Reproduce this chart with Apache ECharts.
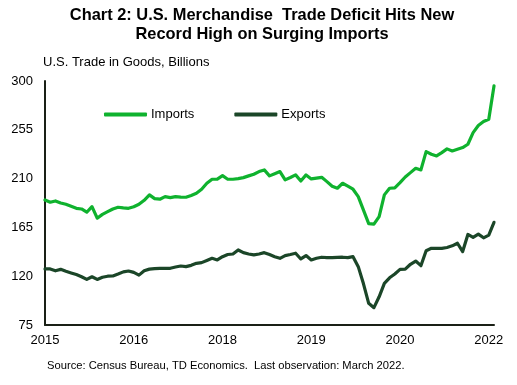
<!DOCTYPE html>
<html>
<head>
<meta charset="utf-8">
<script src="https://cdn.jsdelivr.net/npm/echarts@6/dist/echarts.min.js"></script>
<style>
html,body{margin:0;padding:0;background:#fff;}
#chart{width:517px;height:385px;}
</style>
</head>
<body>
<div id="chart"></div>
<script>
// Monthly categories: Jan 2015 .. Mar 2022
const months = [];
for (let y = 2015; y <= 2022; y++) {
  for (let m = 1; m <= 12; m++) {
    if (y === 2022 && m > 3) break;
    months.push(y + '-' + (m < 10 ? '0' + m : m));
  }
}
// Axis tick labels as shown in the reference (every 17th month)
const tickLabels = ['2015', '2016', '2018', '2019', '2020', '2022'];

const imports = [
  190.3, 188.2, 189.4, 187.5, 186.3, 184.5, 182.6, 182, 179, 184.2, 173.5, 177,
  179.5, 182, 183.6, 183, 182.6, 184, 186.3, 190, 195, 191.5, 191, 193.4,
  192.5, 193.4, 193, 192.8, 194.5, 196.5, 200.2, 205.7, 209.4, 209.6, 212.7, 209.4,
  209.4, 210, 210.9, 212.5, 214, 216.5, 218, 212.5, 214.5, 216.5, 208.8, 211,
  213.4, 207.8, 213.4, 209.7, 210.5, 211.2, 207.2, 203, 201.1, 205.7, 203, 200.2,
  193.4, 181, 168.5, 168, 175, 195, 201.1, 201.5, 206.3, 211.5, 215.5, 219.5,
  218, 234.9, 232.5, 230.9, 234, 237.4, 235.5, 237, 238.6, 241.7, 252.4, 258.9,
  262.6, 264.8, 295.5
];
const exportsData = [
  126.7, 126.7, 125, 126.3, 124.5, 123, 121.5, 119.5, 117, 119.5, 117, 119,
  120, 120.2, 122, 124, 124.8, 123.5, 121, 125, 126.5, 127, 127.3, 127.3,
  127.3, 128.5, 129.4, 128.8, 130, 131.9, 132.5, 134.5, 136.5, 135, 138, 140,
  140.5, 144.2, 141.7, 140.5, 139.6, 140.5, 141.7, 140, 138, 136.5, 139, 140,
  141.2, 135.9, 139, 135, 136.5, 137.5, 137.2, 137.1, 137.3, 137.5, 137.1, 138,
  128.8, 113, 95, 91, 101, 113.4, 118.5, 122, 126.3, 126.5, 131, 134,
  129.7, 143.5, 145.7, 145.7, 145.7, 146.5, 148, 150.4, 142.7, 158.5, 155.8, 158.8,
  155.4, 157.9, 169.7
];

const FONT = '"Liberation Sans", Arial, Helvetica, sans-serif';
const IMPORT_COLOR = '#0fb22e';
const EXPORT_COLOR = '#1b4628';

const chart = echarts.init(document.getElementById('chart'), null, {renderer: 'canvas'});
chart.setOption({
  animation: false,
  backgroundColor: '#ffffff',
  graphic: [
    {
      type: 'text',
      x: 262,
      y: 6,
      style: {
        text: 'Chart 2: U.S. Merchandise  Trade Deficit Hits New\nRecord High on Surging Imports',
        textAlign: 'center',
        textVerticalAlign: 'top',
        font: 'bold 16.4px ' + FONT,
        lineHeight: 19,
        fill: '#000'
      }
    }
  ],
  title: [
    {
      text: 'U.S. Trade in Goods, Billions',
      left: 43,
      top: 56,
      padding: 0,
      textStyle: {fontFamily: FONT, fontSize: 13, fontWeight: 'normal', color: '#000'}
    },
    {
      text: 'Source: Census Bureau, TD Economics.  Last observation: March 2022.',
      left: 47,
      top: 360,
      padding: 0,
      textStyle: {fontFamily: FONT, fontSize: 11.2, fontWeight: 'normal', color: '#000'}
    }
  ],
  legend: {
    data: ['Imports', 'Exports'],
    left: 104,
    top: 108,
    padding: 0,
    icon: 'roundRect',
    itemWidth: 43,
    itemHeight: 4,
    itemGap: 40,
    textStyle: {fontFamily: FONT, fontSize: 13, color: '#000', padding: [0, 0, 0, -1]}
  },
  grid: {left: 45, right: 23, top: 81, bottom: 60, containLabel: false},
  xAxis: {
    type: 'category',
    data: months,
    boundaryGap: false,
    axisLine: {show: true, lineStyle: {color: '#1a2016', width: 2}},
    axisTick: {show: false},
    splitLine: {show: false},
    axisLabel: {
      interval: function (i) { return i % 17 === 0; },
      hideOverlap: false,
      margin: 9,
      fontFamily: FONT,
      fontSize: 13,
      color: '#000',
      formatter: function (v) {
        const i = months.indexOf(v);
        return i % 17 === 0 ? (tickLabels[i / 17] || '') : '';
      }
    }
  },
  yAxis: {
    type: 'value',
    min: 75,
    max: 300,
    interval: 45,
    axisLine: {show: true, lineStyle: {color: '#1a2016', width: 2}},
    axisTick: {show: false},
    splitLine: {show: false},
    axisLabel: {margin: 12, fontFamily: FONT, fontSize: 13, color: '#000'}
  },
  series: [
    {
      name: 'Imports',
      type: 'line',
      data: imports,
      symbol: 'none',
      color: IMPORT_COLOR,
      lineStyle: {width: 3.2, color: IMPORT_COLOR, cap: 'round', join: 'round'}
    },
    {
      name: 'Exports',
      type: 'line',
      data: exportsData,
      symbol: 'none',
      color: EXPORT_COLOR,
      lineStyle: {width: 3.2, color: EXPORT_COLOR, cap: 'round', join: 'round'}
    }
  ]
});
</script>
</body>
</html>
